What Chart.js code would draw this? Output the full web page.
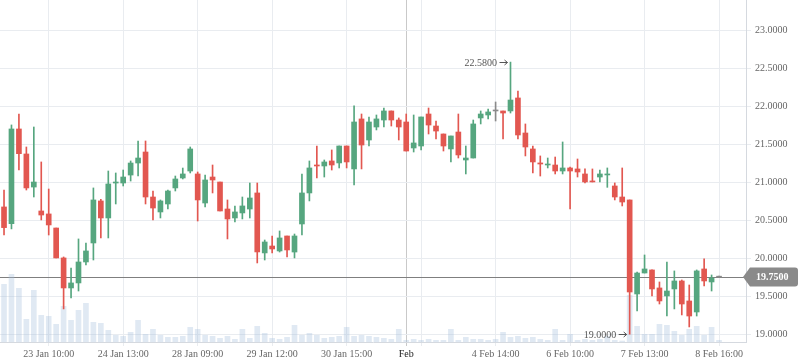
<!DOCTYPE html>
<html>
<head>
<meta charset="utf-8">
<script src="https://cdn.jsdelivr.net/npm/chart.js@4.4.0/dist/chart.umd.min.js"></script>
<style>
  html, body { margin: 0; padding: 0; background: #fff; }
  #wrap { width: 798px; height: 363px; position: relative; }
</style>
</head>
<body>
<div id="wrap"><canvas id="chart"></canvas></div>
<script>
const opens = [20.674,20.454,21.700,21.371,20.936,20.621,20.582,20.397,20.003,19.608,19.674,19.950,20.200,20.753,20.529,20.989,20.989,21.094,21.252,21.397,
  20.805,20.608,20.713,20.924,21.055,21.147,21.108,20.726,21.068,21.002,20.647,20.529,20.595,20.647,20.858,20.069,20.160,20.095,20.292,20.081,
  20.450,20.858,21.226,21.213,21.279,21.253,21.476,21.174,21.832,21.555,21.726,21.818,21.937,21.818,21.792,21.450,21.476,21.897,21.739,21.634,
  21.437,21.660,21.292,21.318,21.845,21.884,21.937,21.937,21.937,22.108,21.647,21.437,21.253,21.226,21.226,21.147,21.187,21.174,21.108,21.016,
  21.068,21.095,20.950,20.805,20.766,19.529,19.805,19.845,19.608,19.503,19.595,19.700,19.437,19.292,19.858,19.687,19.750];
const highs = [20.897,21.753,21.897,21.463,21.726,21.266,20.910,20.397,20.016,19.871,20.253,20.200,20.924,20.774,21.147,21.121,21.160,21.279,21.542,21.542,
  20.884,20.766,20.897,21.081,21.186,21.463,21.134,21.094,21.226,21.002,20.766,20.687,20.805,20.989,20.989,20.239,20.292,20.358,20.292,20.318,
  21.108,21.279,21.476,21.292,21.424,21.476,21.476,22.003,21.897,21.858,21.884,21.976,21.937,21.845,21.897,21.884,21.858,21.976,21.805,21.634,
  21.608,21.897,21.476,21.818,21.937,21.963,22.055,21.937,22.580,22.200,21.766,21.476,21.345,21.318,21.331,21.529,21.200,21.305,21.174,21.174,
  21.160,21.187,20.990,21.187,20.766,19.818,20.042,19.845,19.687,19.950,19.832,19.713,19.647,19.845,19.990,19.779,19.750];
const lows = [20.305,20.385,21.160,20.897,20.805,20.503,20.305,20.003,19.332,19.476,19.568,19.910,19.976,20.266,20.266,20.713,20.950,21.015,21.081,20.713,
  20.503,20.529,20.647,20.884,21.042,21.121,20.489,20.673,20.858,20.621,20.253,20.476,20.516,20.529,19.937,19.976,20.068,20.081,20.016,20.003,
  20.305,20.753,21.055,21.068,21.160,21.187,21.187,20.963,21.174,21.476,21.687,21.726,21.739,21.555,21.410,21.397,21.424,21.634,21.568,21.410,
  21.266,21.318,21.108,21.318,21.766,21.832,21.805,21.568,21.910,21.568,21.345,21.121,21.081,21.187,21.108,21.108,20.647,21.068,20.990,21.003,
  21.003,20.932,20.766,20.687,19.000,19.305,19.805,19.503,19.397,19.239,19.332,19.253,19.095,19.239,19.634,19.568,19.750];
const closes = [20.402,21.700,21.375,20.924,21.002,20.568,20.437,20.003,19.608,19.674,19.950,20.095,20.766,20.529,20.976,21.002,21.068,21.252,21.318,20.805,
  20.660,20.753,20.884,21.042,21.108,21.437,20.766,21.029,21.029,20.621,20.516,20.608,20.687,20.792,20.082,20.213,20.121,20.266,20.108,20.292,
  20.858,21.187,21.213,21.266,21.226,21.476,21.266,21.792,21.489,21.792,21.832,21.937,21.818,21.726,21.410,21.516,21.858,21.752,21.673,21.476,
  21.608,21.358,21.318,21.766,21.897,21.924,21.937,21.910,22.081,21.621,21.463,21.266,21.239,21.239,21.147,21.187,21.147,21.134,21.003,21.003,
  21.108,21.108,20.805,20.739,19.555,19.805,19.858,19.595,19.437,19.568,19.700,19.397,19.239,19.832,19.700,19.739,19.750];
const volumes = [577,677,537,227,517,267,257,177,357,217,317,387,197,187,117,67,57,97,217,77,
  127,67,47,47,57,147,127,67,57,37,57,27,127,37,157,87,37,27,47,167,
  67,87,67,37,47,57,147,57,67,57,47,37,27,127,17,27,17,27,17,17,
  127,17,47,27,27,17,27,97,47,57,37,47,27,17,127,17,77,17,27,17,
  27,57,17,10,467,157,77,77,177,167,107,67,127,157,67,147,17];

const tickIdx = [6, 16, 26, 36, 46, 54, 56, 66, 76, 86, 96];
const tickLabels = ['23 Jan 10:00', '24 Jan 13:00', '28 Jan 09:00', '29 Jan 12:00', '30 Jan 15:00',
  'Feb', '', '4 Feb 14:00', '6 Feb 10:00', '7 Feb 13:00', '8 Feb 16:00'];
const priceTicks = [19.0, 19.5, 20.0, 20.5, 21.0, 21.5, 22.0, 22.5, 23.0];
const monthLabel = 'Feb';
const lastPrice = 19.75;

const GREEN = '#56a67f', RED = '#e25750', GREY = '#8a8a8a';
const FONT = "'Liberation Serif', 'Times New Roman', serif";

const candleColors = opens.map((o, i) => closes[i] > o ? GREEN : (closes[i] < o ? RED : GREY));
const bodies = opens.map((o, i) => ({ x: i, y: [o, closes[i]] }));
const wicks = lows.map((l, i) => ({ x: i, y: [l, highs[i]] }));
const vols = volumes.map((v, i) => ({ x: i, y: v }));

// extreme points get an arrow label
let hiIdx = 0, loIdx = 0;
highs.forEach((h, i) => { if (h > highs[hiIdx]) hiIdx = i; });
lows.forEach((l, i) => { if (l < lows[loIdx]) loIdx = i; });

const overlay = {
  id: 'overlay',
  beforeDatasetsDraw(chart) {
    const { ctx, chartArea: a, scales } = chart;
    const y = Math.round(scales.y.getPixelForValue(lastPrice)) + 0.5;
    ctx.save();
    ctx.strokeStyle = '#7f7f7f';
    ctx.lineWidth = 1;
    ctx.beginPath();
    ctx.moveTo(a.left, y);
    ctx.lineTo(a.right, y);
    ctx.stroke();
    ctx.restore();
  },
  afterDraw(chart) {
    const { ctx, chartArea: a, scales } = chart;
    const y = Math.round(scales.y.getPixelForValue(lastPrice));
    const x0 = a.right - 3, x1 = a.right + 4, x2 = chart.width, h = 9.5;
    ctx.save();
    ctx.fillStyle = GREY;
    ctx.beginPath();
    ctx.moveTo(x0, y);
    ctx.lineTo(x1, y - h);
    ctx.lineTo(x2 - 3, y - h);
    ctx.quadraticCurveTo(x2, y - h, x2, y - h + 3);
    ctx.lineTo(x2, y + h - 3);
    ctx.quadraticCurveTo(x2, y + h, x2 - 3, y + h);
    ctx.lineTo(x1, y + h);
    ctx.closePath();
    ctx.fill();
    ctx.fillStyle = '#fff';
    ctx.font = 'bold 10px ' + FONT;
    ctx.textBaseline = 'middle';
    ctx.textAlign = 'left';
    ctx.fillText(lastPrice.toFixed(4), a.right + 10, y + 0.5);

    // high / low markers: value text plus a small arrow
    ctx.fillStyle = '#555';
    ctx.strokeStyle = '#555';
    ctx.lineWidth = 1;
    ctx.font = '10px ' + FONT;
    ctx.textAlign = 'right';
    [[hiIdx, highs[hiIdx]], [loIdx, lows[loIdx]]].forEach(([i, v]) => {
      const px = scales.x.getPixelForValue(i);
      const py = Math.round(scales.y.getPixelForValue(v)) + 0.5;
      ctx.fillText(v.toFixed(4), px - 13.5, py + 1);
      ctx.beginPath();
      ctx.moveTo(px - 11, py);
      ctx.lineTo(px - 3, py);
      ctx.moveTo(px - 6, py - 2.5);
      ctx.lineTo(px - 3, py);
      ctx.lineTo(px - 6, py + 2.5);
      ctx.stroke();
    });
    ctx.restore();
  }
};

const gridColor = '#e9ecf0';

new Chart(document.getElementById('chart'), {
  type: 'bar',
  data: {
    datasets: [
      { data: bodies, backgroundColor: candleColors, barThickness: 5, minBarLength: 1, grouped: false, yAxisID: 'y' },
      { data: wicks, backgroundColor: candleColors, barThickness: 1, minBarLength: 1, grouped: false, yAxisID: 'y' },
      { data: vols, backgroundColor: 'rgba(165,192,222,0.35)', barThickness: 5, grouped: false, yAxisID: 'yv' }
    ]
  },
  options: {
    responsive: true,
    maintainAspectRatio: false,
    animation: false,
    layout: { padding: 0 },
    plugins: { legend: { display: false }, tooltip: { enabled: false } },
    scales: {
      x: {
        type: 'linear',
        min: -0.54,
        max: 99.62,
        offset: false,
        afterBuildTicks: s => { s.ticks = tickIdx.map(v => ({ value: v })); },
        afterFit: s => { s.height = 21; s.paddingLeft = 0; s.paddingRight = 0; },
        ticks: {
          autoSkip: false,
          maxRotation: 0,
          padding: 2,
          callback: (v, i) => tickLabels[i],
          color: c => tickLabels[c.index] === monthLabel ? '#222' : '#666',
          font: { family: FONT, size: 10 }
        },
        grid: {
          offset: false,
          color: c => (c.tick && c.tick.value === tickIdx[tickLabels.indexOf(monthLabel)]) ? '#c9c9c9' : gridColor,
          tickLength: 4
        },
        border: { color: '#d5d9df' }
      },
      y: {
        position: 'right',
        min: 18.897,
        max: 23.397,
        afterBuildTicks: s => { s.ticks = priceTicks.map(v => ({ value: v })); },
        afterFit: s => { s.width = 52; s.paddingTop = 0; s.paddingBottom = 0; },
        ticks: {
          padding: 4,
          callback: v => Number(v).toFixed(4),
          color: '#666',
          font: { family: FONT, size: 10 }
        },
        grid: { color: gridColor, tickLength: 5 },
        border: { color: '#d5d9df' }
      },
      yv: { display: false, min: 0, max: 3420 }
    }
  },
  plugins: [overlay]
});
</script>
</body>
</html>
